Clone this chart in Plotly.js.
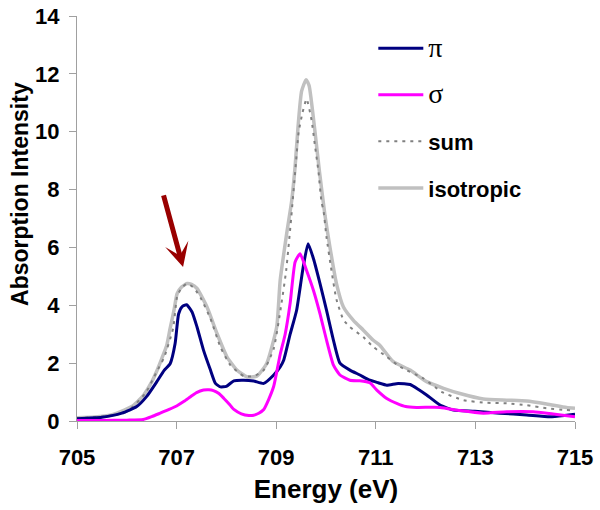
<!DOCTYPE html>
<html>
<head>
<meta charset="utf-8">
<script src="https://cdn.plot.ly/plotly-3.0.1.min.js"></script>
<style>html,body{margin:0;padding:0;background:#fff;}#chart{width:600px;height:510px;}</style>
</head>
<body>
<div id="chart"></div>
<script>
// π polarisation
const piX = [705, 705.5, 705.9, 706.2, 706.4, 706.6, 706.75, 706.87, 706.97, 707.04, 707.11, 707.2, 707.31, 707.41, 707.54, 707.68, 707.78, 707.88, 708.0, 708.15, 708.35, 708.55, 708.75, 708.95, 709.08, 709.15, 709.28, 709.41, 709.54, 709.64, 709.75, 709.88, 710.01, 710.15, 710.28, 710.48, 710.68, 710.88, 711.05, 711.22, 711.45, 711.69, 711.85, 712.02, 712.29, 712.56, 712.99, 713.49, 714.03, 714.5, 714.83, 715];
const piY = [0.08, 0.13, 0.27, 0.5, 0.85, 1.35, 1.75, 1.98, 2.68, 3.7, 3.95, 4.02, 3.77, 3.25, 2.45, 1.76, 1.3, 1.18, 1.2, 1.39, 1.41, 1.38, 1.3, 1.59, 1.87, 2.1, 3.0, 3.83, 5.3, 6.13, 5.6, 4.75, 3.83, 2.79, 2.0, 1.76, 1.59, 1.41, 1.32, 1.24, 1.3, 1.26, 1.1, 0.9, 0.55, 0.38, 0.34, 0.27, 0.21, 0.15, 0.2, 0.23];
// σ polarisation
const sigmaX = [705, 705.5, 706.0, 706.33, 706.5, 706.67, 706.85, 707.0, 707.15, 707.28, 707.4, 707.54, 707.65, 707.74, 707.85, 707.95, 708.05, 708.15, 708.3, 708.45, 708.55, 708.65, 708.75, 708.85, 708.95, 709.08, 709.18, 709.28, 709.38, 709.48, 709.61, 709.75, 709.88, 710.01, 710.15, 710.28, 710.48, 710.68, 710.88, 711.02, 711.22, 711.42, 711.6, 711.82, 712.29, 712.69, 713.16, 713.63, 714.16, 714.56, 715];
const sigmaY = [0.02, 0.02, 0.03, 0.05, 0.15, 0.27, 0.4, 0.52, 0.68, 0.84, 0.98, 1.07, 1.08, 1.05, 0.95, 0.78, 0.6, 0.4, 0.25, 0.19, 0.2, 0.27, 0.4, 0.75, 1.2, 2.3, 3.0, 4.07, 5.5, 5.78, 5.2, 4.5, 3.7, 2.8, 1.93, 1.59, 1.41, 1.39, 1.32, 1.07, 0.78, 0.61, 0.5, 0.47, 0.47, 0.36, 0.27, 0.32, 0.32, 0.24, 0.15];
// sum (dashed)
const sumX = [705, 705.5, 706.0, 706.37, 706.6, 706.75, 706.93, 707.01, 707.1, 707.21, 707.35, 707.5, 707.68, 707.88, 708.08, 708.35, 708.55, 708.75, 708.95, 709.1, 709.2, 709.3, 709.4, 709.45, 709.53, 709.61, 709.71, 709.78, 709.85, 709.91, 709.95, 710.01, 710.11, 710.21, 710.35, 710.48, 710.75, 710.95, 711.22, 711.49, 711.96, 712.32, 712.76, 713.23, 713.63, 714.03, 714.43, 714.83, 715];
const sumY = [0.1, 0.15, 0.32, 0.95, 1.7, 2.2, 3.2, 4.3, 4.6, 4.75, 4.6, 4.2, 3.54, 2.56, 1.93, 1.55, 1.55, 1.76, 2.5, 4.0, 5.2, 7.0, 9.0, 9.98, 10.67, 11.13, 10.4, 9.5, 8.6, 7.56, 7.27, 6.36, 5.2, 4.2, 3.5, 3.25, 2.9, 2.56, 2.22, 1.87, 1.47, 1.01, 0.72, 0.63, 0.61, 0.55, 0.44, 0.38, 0.36];
// isotropic
const isoX = [705, 705.35, 705.67, 705.95, 706.14, 706.34, 706.5, 706.6, 706.7, 706.8, 706.87, 706.95, 707.01, 707.1, 707.21, 707.3, 707.41, 707.61, 707.81, 708.01, 708.21, 708.41, 708.61, 708.81, 709.01, 709.08, 709.21, 709.31, 709.38, 709.44, 709.51, 709.6, 709.66, 709.78, 709.87, 709.98, 710.08, 710.21, 710.35, 710.55, 710.75, 710.95, 711.08, 711.35, 711.69, 712.02, 712.36, 712.69, 713.16, 713.63, 714.03, 714.43, 714.83, 715];
const isoY = [0.11, 0.14, 0.2, 0.38, 0.55, 0.9, 1.35, 1.72, 2.15, 2.6, 3.2, 3.85, 4.4, 4.63, 4.75, 4.72, 4.58, 3.94, 3.03, 2.22, 1.76, 1.53, 1.55, 1.99, 3.25, 4.86, 6.47, 7.6, 8.8, 10.2, 11.4, 11.8, 11.6, 9.98, 8.6, 7.1, 6.0, 4.75, 3.94, 3.48, 3.14, 2.79, 2.62, 2.05, 1.76, 1.36, 1.13, 0.95, 0.76, 0.72, 0.69, 0.59, 0.47, 0.44];
// arrow (data coordinates)
const arrowTail = [706.73, 7.85];
const arrowHead = [707.13, 5.32];

const xTicks = [705, 707, 709, 711, 713, 715];
const yTicks = [0, 2, 4, 6, 8, 10, 12, 14];

const serif = 'font-family:Liberation Serif, Times New Roman, serif;font-weight:normal;font-size:28px';
const traces = [
  {x: piX, y: piY, name: '<span style="' + serif + '">π</span>', legendgroup: 'a',
   mode: 'lines', line: {color: '#000080', width: 3, shape: 'spline', smoothing: 0.5}},
  {x: sigmaX, y: sigmaY, name: '<span style="' + serif + '">σ</span>', legendgroup: 'b',
   mode: 'lines', line: {color: '#FF00FF', width: 3, shape: 'spline', smoothing: 0.5}},
  {x: sumX, y: sumY, name: '<b>sum</b>', legendgroup: 'c',
   mode: 'lines', line: {color: '#808080', width: 2, dash: '3px,5px', shape: 'spline', smoothing: 0.5}},
  {x: isoX, y: isoY, name: '<b>isotropic</b>', legendgroup: 'd',
   mode: 'lines', line: {color: '#C0C0C0', width: 3.5, shape: 'spline', smoothing: 0.5}}
];
// draw isotropic first so others lie on top, keep legend order via legendrank
const order = [3, 2, 0, 1];
const data = order.map(i => Object.assign({}, traces[i], {legendrank: i + 1}));

const font = 'Liberation Sans, Arial, sans-serif';
const layout = {
  width: 600, height: 510,
  margin: {l: 77, r: 25, t: 16, b: 89},
  paper_bgcolor: '#fff', plot_bgcolor: '#fff',
  font: {family: font, color: '#000'},
  showlegend: true,
  legend: {
    x: 0.595, xanchor: 'left', y: 0.972, yanchor: 'top',
    font: {family: font, size: 22, color: '#000'},
    bgcolor: 'rgba(0,0,0,0)', tracegroupgap: 15, itemwidth: 45,
    traceorder: 'grouped'
  },
  xaxis: {
    range: [705, 715], tickvals: xTicks, ticktext: xTicks.map(v => '<b>' + v + '</b>'),
    showgrid: false, zeroline: false, showline: true, linecolor: '#a0a0a0', linewidth: 1,
    ticks: 'outside', ticklen: 7, tickcolor: '#a0a0a0', ticklabelstandoff: 10,
    tickfont: {family: font, size: 22, color: '#000'},
    title: {text: '<b>Energy (eV)</b>', font: {family: font, size: 26, color: '#000'}, standoff: 10}
  },
  yaxis: {
    range: [0, 14], tickvals: yTicks, ticktext: yTicks.map(v => '<b>' + v + '</b>'),
    showgrid: false, zeroline: false, showline: true, linecolor: '#a0a0a0', linewidth: 1,
    ticks: 'outside', ticklen: 7, tickcolor: '#a0a0a0', ticklabelstandoff: 5,
    tickfont: {family: font, size: 22, color: '#000'}
  },
  annotations: [{
    x: arrowHead[0], y: arrowHead[1], ax: arrowTail[0], ay: arrowTail[1],
    xref: 'x', yref: 'y', axref: 'x', ayref: 'y',
    text: '', showarrow: true, arrowhead: 3, arrowsize: 0.8, arrowwidth: 5, arrowcolor: '#990000'
  }, {
    text: '<b>Absorption Intensity</b>', textangle: -90, showarrow: false,
    xref: 'paper', yref: 'paper', x: -0.115, y: 0.56, xanchor: 'center', yanchor: 'middle',
    font: {family: font, size: 23, color: '#000'}
  }]
};
Plotly.newPlot('chart', data, layout, {displayModeBar: false, staticPlot: true});
</script>
</body>
</html>
